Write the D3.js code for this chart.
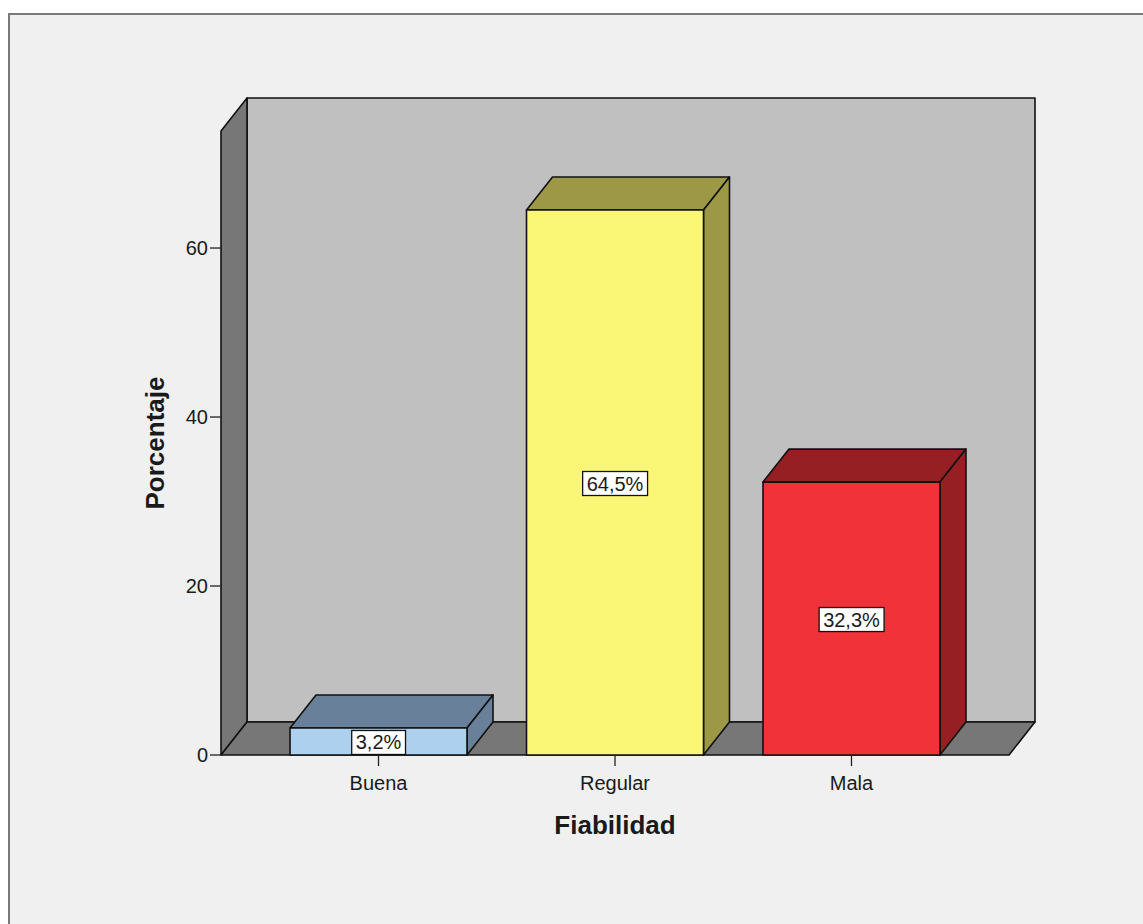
<!DOCTYPE html>
<html>
<head>
<meta charset="utf-8">
<script src="https://cdn.jsdelivr.net/npm/d3@7/dist/d3.min.js"></script>
<style>
  html, body { margin: 0; padding: 0; background: #ffffff; }
  svg { display: block; }
  text { font-family: "Liberation Sans", Arial, sans-serif; fill: #1a1a1a; }
</style>
</head>
<body>
<script>
// Data
const categories = ["Buena", "Regular", "Mala"];
const percentages = [3.2, 64.5, 32.3];
const valueLabels = ["3,2%", "64,5%", "32,3%"];
const yTicks = [0, 20, 40, 60];
const frontColors = ["#aed0ef", "#fbf776", "#f13239"];
const shadeColors = ["#69809a", "#9c9846", "#961f23"];

const W = 1143, H = 924;
const svg = d3.select("body").append("svg").attr("width", W).attr("height", H);

// Panel
svg.append("rect").attr("x", 9).attr("y", 14).attr("width", W + 10).attr("height", H + 10)
  .attr("fill", "#f0f0f0").attr("stroke", "#7a7a7a").attr("stroke-width", 2);

// 3D geometry: depth offset of the box
const dx = 26, dy = -33;
const x0 = 221, x1 = 1009;
const y = d3.scaleLinear().domain([0, 73.85]).range([755, 131]);
const x = d3.scaleBand().domain(categories).range([x0, x1])
  .paddingInner(0.2516).paddingOuter(0.2918);

const yBase = y(0), yTop = y.range()[1];
const line = pts => "M" + pts.map(p => p.join(",")).join("L") + "Z";
const edge = { stroke: "#111", "stroke-width": 1.6, "stroke-linejoin": "round" };
function face(g, pts, fill) {
  const p = g.append("path").attr("d", line(pts)).attr("fill", fill);
  Object.entries(edge).forEach(([k, v]) => p.attr(k, v));
  return p;
}

const box = svg.append("g");
// back wall
face(box, [[x0 + dx, yTop + dy], [x1 + dx, yTop + dy], [x1 + dx, yBase + dy], [x0 + dx, yBase + dy]], "#c0c0c0");
// left wall
face(box, [[x0, yTop], [x0 + dx, yTop + dy], [x0 + dx, yBase + dy], [x0, yBase]], "#777777");
// floor
face(box, [[x0, yBase], [x0 + dx, yBase + dy], [x1 + dx, yBase + dy], [x1, yBase]], "#777777");

// y axis ticks
const yAxis = svg.append("g");
yTicks.forEach(t => {
  yAxis.append("line").attr("x1", x0 - 11).attr("x2", x0).attr("y1", y(t)).attr("y2", y(t))
    .attr("stroke", "#222").attr("stroke-width", 1.3);
  yAxis.append("text").attr("x", x0 - 13).attr("y", y(t)).attr("dy", "0.35em")
    .attr("text-anchor", "end").attr("font-size", 20).text(t);
});

// bars
const bars = svg.append("g");
categories.forEach((c, i) => {
  const bx = x(c), bw = x.bandwidth(), by = y(percentages[i]);
  // top
  face(bars, [[bx, by], [bx + dx, by + dy], [bx + bw + dx, by + dy], [bx + bw, by]], shadeColors[i]);
  // side
  face(bars, [[bx + bw, by], [bx + bw + dx, by + dy], [bx + bw + dx, yBase + dy], [bx + bw, yBase]], shadeColors[i]);
  // front
  face(bars, [[bx, by], [bx + bw, by], [bx + bw, yBase], [bx, yBase]], frontColors[i]);
});

// x axis ticks and labels
const xAxis = svg.append("g");
categories.forEach(c => {
  const cx = x(c) + x.bandwidth() / 2;
  xAxis.append("line").attr("x1", cx).attr("x2", cx).attr("y1", yBase).attr("y2", yBase + 11)
    .attr("stroke", "#222").attr("stroke-width", 1.3);
  xAxis.append("text").attr("x", cx).attr("y", yBase + 28).attr("dy", "0.35em")
    .attr("text-anchor", "middle").attr("font-size", 20).text(c);
});

// value labels
const labels = svg.append("g");
categories.forEach((c, i) => {
  const cx = x(c) + x.bandwidth() / 2;
  const cy = (y(percentages[i]) + yBase) / 2 + 1;
  const t = labels.append("text").attr("x", cx).attr("y", cy).attr("dy", "0.35em")
    .attr("text-anchor", "middle").attr("font-size", 20).text(valueLabels[i]);
  const bb = t.node().getBBox();
  labels.insert("rect", "text").attr("x", bb.x - 4).attr("y", cy - 12)
    .attr("width", bb.width + 8).attr("height", 24)
    .attr("fill", "#ffffff").attr("stroke", "#111").attr("stroke-width", 1.3);
});

// axis titles
svg.append("text").attr("x", (x0 + x1) / 2).attr("y", 825).attr("dy", "0.35em")
  .attr("text-anchor", "middle").attr("font-size", 26).attr("font-weight", "bold").text("Fiabilidad");
svg.append("text").attr("transform", "translate(155,443) rotate(-90)").attr("dy", "0.35em")
  .attr("text-anchor", "middle").attr("font-size", 26).attr("font-weight", "bold").text("Porcentaje");
</script>
</body>
</html>
